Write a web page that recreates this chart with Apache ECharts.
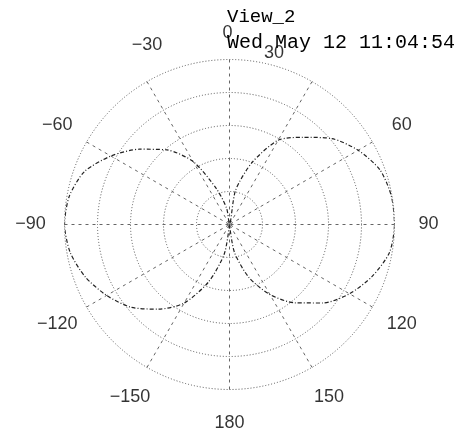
<!DOCTYPE html>
<html>
<head>
<meta charset="utf-8">
<script src="https://cdn.jsdelivr.net/npm/echarts@6/dist/echarts.min.js"></script>
<style>
  html, body { margin: 0; padding: 0; background: #ffffff; }
  #chart { width: 463px; height: 435px; }
</style>
</head>
<body>
<div id="chart"></div>
<script>
// ---- data ----
const titleText = 'View_2';
const dateText = 'Wed May 12 11:04:54';

// pattern angles (degrees, 0 = up, clockwise positive)
const angles = [-180, -170, -160, -150, -140, -130, -120, -110, -100, -90,
                -80, -70, -60, -50, -40, -30, -20, -10, 0,
                10, 20, 30, 40, 50, 60, 70, 80, 90,
                100, 110, 120, 130, 140, 150, 160, 170, 180];
// pattern radius (grid 0..5)
const radii = [0, 0.9, 1.85, 2.75, 3.35, 3.9, 4.3, 4.65, 4.9, 5.0,
               4.93, 4.68, 4.15, 3.55, 2.95, 2.2, 1.15, 0.5, 0,
               1.05, 2.0, 2.95, 3.45, 4.05, 4.5, 4.85, 4.98, 5.0,
               4.92, 4.6, 4.2, 3.7, 3.1, 2.45, 1.7, 0.85, 0];

// angle tick labels
const angleTicks = [0, 30, 60, 90, 120, 150, 180, -150, -120, -90, -60, -30];
const angleTickLabels = ['0', '30', '60', '90', '120', '150', '180', '\u2212150', '\u2212120', '\u221290', '\u221260', '\u221230'];

// ---- layout constants ----
const LABEL_R = 6.03;
// labels that the original displaced (text: [radius, angle])
const labelShift = { '0': [5.8, -0.6], '30': [5.36, 14.6], '\u221230': [5.99, -24.7] };

const lineData = angles.map((a, i) => [radii[i], a]);
const labelData = angleTicks.map((a, i) => {
  const t = angleTickLabels[i];
  const p = labelShift[t] || [LABEL_R, a];
  return [p[0], p[1], t];
});

const chart = echarts.init(document.getElementById('chart'), null, { renderer: 'canvas' });
chart.setOption({
  backgroundColor: '#ffffff',
  animation: false,
  title: {
    text: titleText,
    subtext: dateText,
    left: 227,
    top: 7,
    padding: 0,
    itemGap: 7,
    textStyle: { fontFamily: 'Liberation Mono', fontSize: 19, fontWeight: 'normal', color: '#000' },
    subtextStyle: { fontFamily: 'Liberation Mono', fontSize: 20, color: '#000' }
  },
  polar: { center: [229.5, 224.5], radius: 165 },
  radiusAxis: {
    type: 'value', min: 0, max: 5, interval: 1,
    axisLine: { show: false }, axisTick: { show: false }, axisLabel: { show: false },
    splitLine: { show: true, lineStyle: { color: '#555', width: 1, type: [1, 2] } }
  },
  angleAxis: {
    type: 'value', min: -180, max: 180, interval: 30,
    startAngle: 270, clockwise: true,
    axisLine: { show: false }, axisTick: { show: false }, axisLabel: { show: false },
    splitLine: { show: true, lineStyle: { color: '#666', width: 1, type: [3, 4] } }
  },
  series: [
    {
      type: 'line', coordinateSystem: 'polar',
      data: lineData, smooth: 0.25, symbol: 'none',
      lineStyle: { color: '#222', width: 1.2, type: [4, 2, 1, 2] },
      silent: true
    },
    {
      type: 'scatter', coordinateSystem: 'polar',
      data: labelData, symbolSize: 0, clip: false, silent: true,
      label: {
        show: true, position: 'inside',
        formatter: p => p.data[2],
        fontFamily: 'Liberation Sans', fontSize: 18, color: '#000'
      }
    }
  ]
});
</script>
</body>
</html>
